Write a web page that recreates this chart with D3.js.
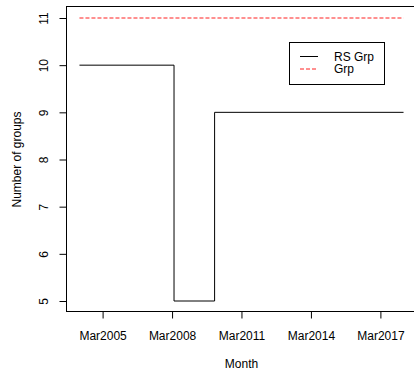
<!DOCTYPE html>
<html>
<head>
<meta charset="utf-8">
<script src="https://cdn.jsdelivr.net/npm/d3@7"></script>
<style>
  html, body { margin: 0; padding: 0; background: #fff; }
  svg { display: block; }
  text { font-family: "Liberation Sans", Arial, Helvetica, sans-serif; font-size: 12px; fill: #000; }
</style>
</head>
<body>
<svg id="chart" width="414" height="374"></svg>
<script>
// Monthly series: dates where the value changes, plus the final month
const rsGrpDates  = ["2004-03", "2008-04", "2010-01", "2018-03"];
const rsGrpValues = [10, 5, 9, 9];
const grpDates    = ["2004-03", "2018-03"];
const grpValues   = [11, 11];

const xTickDates  = ["2005-03", "2008-03", "2011-03", "2014-03", "2017-03"];
const xTickLabels = ["Mar2005", "Mar2008", "Mar2011", "Mar2014", "Mar2017"];
const yTicks      = [5, 6, 7, 8, 9, 10, 11];

const seriesNames  = ["RS Grp", "Grp"];
const seriesColors = ["#000000", "#ff2020"];

const parseMonth = d3.utcParse("%Y-%m");
const rsGrp = rsGrpDates.map((d, i) => ({ date: parseMonth(d), value: rsGrpValues[i] }));
const grp   = grpDates.map((d, i) => ({ date: parseMonth(d), value: grpValues[i] }));

const svg = d3.select("#chart");

// Plot region (base-graphics style: 4% padding around the data range)
const plot = { left: 66.5, right: 416.5, top: 6.68, bottom: 312.32 };

const allDates = rsGrp.concat(grp).map(d => d.date);
const [t0, t1] = d3.extent(allDates);
const span = t1 - t0;
const x = d3.scaleUtc()
  .domain([new Date(+t0 - span * 0.04), new Date(+t1 + span * 0.04)])
  .range([plot.left, plot.right]);

const yMin = d3.min(rsGrpValues.concat(grpValues));
const yMax = d3.max(rsGrpValues.concat(grpValues));
const yPad = (yMax - yMin) * 0.04;
const y = d3.scaleLinear()
  .domain([yMin - yPad, yMax + yPad])
  .range([plot.bottom, plot.top]);

// Series lines
const stepLine = d3.line()
  .x(d => x(d.date))
  .y(d => y(d.value))
  .curve(d3.curveStepAfter);

svg.append("path")
  .datum(rsGrp)
  .attr("d", stepLine)
  .attr("fill", "none")
  .attr("stroke", seriesColors[0])
  .attr("stroke-width", 1);

svg.append("path")
  .datum(grp)
  .attr("d", stepLine)
  .attr("fill", "none")
  .attr("stroke", seriesColors[1])
  .attr("stroke-width", 1)
  .attr("stroke-dasharray", "4,2");

// Frame
svg.append("rect")
  .attr("x", 66.5).attr("y", 6.5)
  .attr("width", 416.5 - 66.5).attr("height", 311.5 - 6.5)
  .attr("fill", "none").attr("stroke", "#000").attr("stroke-width", 1);

// X axis
const xAxis = d3.axisBottom(x)
  .tickValues(xTickDates.map(parseMonth))
  .tickFormat((d, i) => xTickLabels[i])
  .tickSizeInner(7)
  .tickSizeOuter(0)
  .tickPadding(0);

const gx = svg.append("g")
  .attr("transform", `translate(0,311.5)`)
  .call(xAxis)
  .attr("font-family", null).attr("font-size", null);
gx.select(".domain").remove();
gx.selectAll(".tick line").attr("stroke", "#000");
gx.selectAll(".tick text")
  .attr("y", 0).attr("dy", null)
  .attr("transform", "translate(0,28)");

// Y axis
const yAxis = d3.axisLeft(y)
  .tickValues(yTicks)
  .tickFormat(d3.format("d"))
  .tickSizeInner(7)
  .tickSizeOuter(0)
  .tickPadding(0);

const gy = svg.append("g")
  .attr("transform", `translate(66.5,0)`)
  .call(yAxis)
  .attr("font-family", null).attr("font-size", null);
gy.select(".domain").remove();
gy.selectAll(".tick line").attr("stroke", "#000");
gy.selectAll(".tick text")
  .attr("x", 0).attr("dy", null)
  .attr("text-anchor", "middle")
  .attr("transform", "translate(-19,0) rotate(-90)");

// Axis titles
svg.append("text")
  .attr("x", (plot.left + plot.right) / 2)
  .attr("y", 368)
  .attr("text-anchor", "middle")
  .text("Month");

svg.append("text")
  .attr("transform", `translate(20.7,${(plot.top + plot.bottom) / 2}) rotate(-90)`)
  .attr("text-anchor", "middle")
  .text("Number of groups");

// Legend
const legend = svg.append("g");
legend.append("rect")
  .attr("x", 289.5).attr("y", 42.5)
  .attr("width", 95).attr("height", 42)
  .attr("fill", "#fff").attr("stroke", "#000").attr("stroke-width", 1);

seriesNames.forEach((name, i) => {
  const ly = 56.5 + i * 12.5;
  legend.append("line")
    .attr("x1", 300).attr("x2", 318)
    .attr("y1", ly).attr("y2", ly)
    .attr("stroke", seriesColors[i])
    .attr("stroke-width", 1)
    .attr("stroke-dasharray", i === 1 ? "4,2" : null);
  legend.append("text")
    .attr("x", 334)
    .attr("y", ly + 4.3)
    .text(name);
});
</script>
</body>
</html>
